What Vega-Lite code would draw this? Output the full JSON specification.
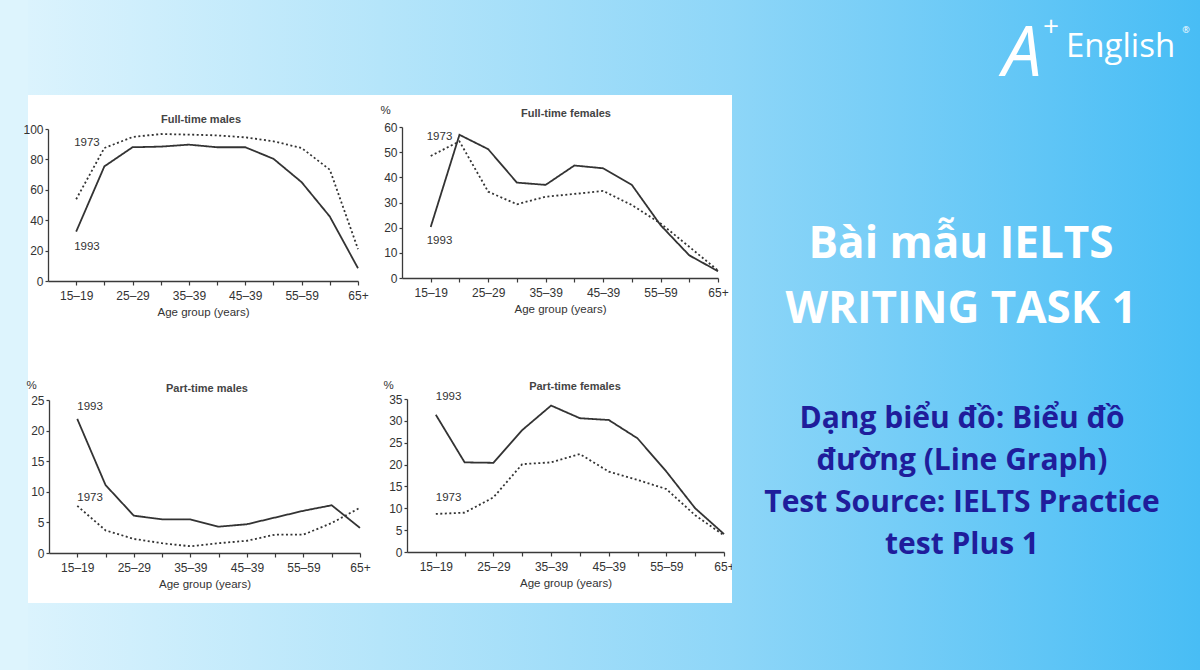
{
  "$schema": "https://vega.github.io/schema/vega-lite/v6.json",
  "padding": 0,
  "autosize": {"type": "pad"},
  "background": "#ffffff",
  "spacing": 0,
  "columns": 4,
  "bounds": "flush",
  "config": {
    "view": {"stroke": null},
    "font": "Liberation Sans",
    "axis": {"grid": false, "domainColor": "#3a3a3a", "tickColor": "#3a3a3a", "domainWidth": 1.3, "tickWidth": 1.2, "labelColor": "#333333", "labelFontSize": 12, "titleFontSize": 11.5, "titleFontWeight": "normal", "titleColor": "#333333", "labelFont": "Liberation Sans", "titleFont": "Liberation Sans"}
  },
  "datasets": {
    "employment": [
      {"chart": "Full-time males", "year": "1993", "age": "15–19", "pct": 32.5},
      {"chart": "Full-time males", "year": "1993", "age": "20–24", "pct": 75.4},
      {"chart": "Full-time males", "year": "1993", "age": "25–29", "pct": 88},
      {"chart": "Full-time males", "year": "1993", "age": "30–34", "pct": 88.4},
      {"chart": "Full-time males", "year": "1993", "age": "35–39", "pct": 89.7},
      {"chart": "Full-time males", "year": "1993", "age": "40–44", "pct": 88},
      {"chart": "Full-time males", "year": "1993", "age": "45–49", "pct": 88},
      {"chart": "Full-time males", "year": "1993", "age": "50–54", "pct": 80.4},
      {"chart": "Full-time males", "year": "1993", "age": "55–59", "pct": 65},
      {"chart": "Full-time males", "year": "1993", "age": "60–64", "pct": 42.4},
      {"chart": "Full-time males", "year": "1993", "age": "65+", "pct": 8.4},
      {"chart": "Full-time males", "year": "1973", "age": "15–19", "pct": 53.8},
      {"chart": "Full-time males", "year": "1973", "age": "20–24", "pct": 87.5},
      {"chart": "Full-time males", "year": "1973", "age": "25–29", "pct": 94.7},
      {"chart": "Full-time males", "year": "1973", "age": "30–34", "pct": 96.7},
      {"chart": "Full-time males", "year": "1973", "age": "35–39", "pct": 96.3},
      {"chart": "Full-time males", "year": "1973", "age": "40–44", "pct": 95.8},
      {"chart": "Full-time males", "year": "1973", "age": "45–49", "pct": 94.5},
      {"chart": "Full-time males", "year": "1973", "age": "50–54", "pct": 91.9},
      {"chart": "Full-time males", "year": "1973", "age": "55–59", "pct": 87.5},
      {"chart": "Full-time males", "year": "1973", "age": "60–64", "pct": 73.2},
      {"chart": "Full-time males", "year": "1973", "age": "65+", "pct": 21},
      {"chart": "Full-time females", "year": "1993", "age": "15–19", "pct": 20.3},
      {"chart": "Full-time females", "year": "1993", "age": "20–24", "pct": 56.9},
      {"chart": "Full-time females", "year": "1993", "age": "25–29", "pct": 51.2},
      {"chart": "Full-time females", "year": "1993", "age": "30–34", "pct": 37.9},
      {"chart": "Full-time females", "year": "1993", "age": "35–39", "pct": 37},
      {"chart": "Full-time females", "year": "1993", "age": "40–44", "pct": 44.7},
      {"chart": "Full-time females", "year": "1993", "age": "45–49", "pct": 43.6},
      {"chart": "Full-time females", "year": "1993", "age": "50–54", "pct": 37},
      {"chart": "Full-time females", "year": "1993", "age": "55–59", "pct": 21},
      {"chart": "Full-time females", "year": "1993", "age": "60–64", "pct": 9},
      {"chart": "Full-time females", "year": "1993", "age": "65+", "pct": 2.7},
      {"chart": "Full-time females", "year": "1973", "age": "15–19", "pct": 48.5},
      {"chart": "Full-time females", "year": "1973", "age": "20–24", "pct": 54.3},
      {"chart": "Full-time females", "year": "1973", "age": "25–29", "pct": 34.3},
      {"chart": "Full-time females", "year": "1973", "age": "30–34", "pct": 29.3},
      {"chart": "Full-time females", "year": "1973", "age": "35–39", "pct": 32.3},
      {"chart": "Full-time females", "year": "1973", "age": "40–44", "pct": 33.4},
      {"chart": "Full-time females", "year": "1973", "age": "45–49", "pct": 34.6},
      {"chart": "Full-time females", "year": "1973", "age": "50–54", "pct": 29},
      {"chart": "Full-time females", "year": "1973", "age": "55–59", "pct": 21.7},
      {"chart": "Full-time females", "year": "1973", "age": "60–64", "pct": 12.4},
      {"chart": "Full-time females", "year": "1973", "age": "65+", "pct": 3},
      {"chart": "Part-time males", "year": "1993", "age": "15–19", "pct": 21.9},
      {"chart": "Part-time males", "year": "1993", "age": "20–24", "pct": 11.1},
      {"chart": "Part-time males", "year": "1993", "age": "25–29", "pct": 6.1},
      {"chart": "Part-time males", "year": "1993", "age": "30–34", "pct": 5.5},
      {"chart": "Part-time males", "year": "1993", "age": "35–39", "pct": 5.5},
      {"chart": "Part-time males", "year": "1993", "age": "40–44", "pct": 4.3},
      {"chart": "Part-time males", "year": "1993", "age": "45–49", "pct": 4.7},
      {"chart": "Part-time males", "year": "1993", "age": "50–54", "pct": 5.8},
      {"chart": "Part-time males", "year": "1993", "age": "55–59", "pct": 6.9},
      {"chart": "Part-time males", "year": "1993", "age": "60–64", "pct": 7.8},
      {"chart": "Part-time males", "year": "1993", "age": "65+", "pct": 4.1},
      {"chart": "Part-time males", "year": "1973", "age": "15–19", "pct": 7.7},
      {"chart": "Part-time males", "year": "1973", "age": "20–24", "pct": 3.7},
      {"chart": "Part-time males", "year": "1973", "age": "25–29", "pct": 2.3},
      {"chart": "Part-time males", "year": "1973", "age": "30–34", "pct": 1.6},
      {"chart": "Part-time males", "year": "1973", "age": "35–39", "pct": 1.1},
      {"chart": "Part-time males", "year": "1973", "age": "40–44", "pct": 1.6},
      {"chart": "Part-time males", "year": "1973", "age": "45–49", "pct": 2},
      {"chart": "Part-time males", "year": "1973", "age": "50–54", "pct": 3},
      {"chart": "Part-time males", "year": "1973", "age": "55–59", "pct": 3},
      {"chart": "Part-time males", "year": "1973", "age": "60–64", "pct": 4.9},
      {"chart": "Part-time males", "year": "1973", "age": "65+", "pct": 7.4},
      {"chart": "Part-time females", "year": "1993", "age": "15–19", "pct": 31.4},
      {"chart": "Part-time females", "year": "1993", "age": "20–24", "pct": 20.5},
      {"chart": "Part-time females", "year": "1993", "age": "25–29", "pct": 20.4},
      {"chart": "Part-time females", "year": "1993", "age": "30–34", "pct": 27.9},
      {"chart": "Part-time females", "year": "1993", "age": "35–39", "pct": 33.5},
      {"chart": "Part-time females", "year": "1993", "age": "40–44", "pct": 30.6},
      {"chart": "Part-time females", "year": "1993", "age": "45–49", "pct": 30.2},
      {"chart": "Part-time females", "year": "1993", "age": "50–54", "pct": 26},
      {"chart": "Part-time females", "year": "1993", "age": "55–59", "pct": 18.4},
      {"chart": "Part-time females", "year": "1993", "age": "60–64", "pct": 10},
      {"chart": "Part-time females", "year": "1993", "age": "65+", "pct": 4.1},
      {"chart": "Part-time females", "year": "1973", "age": "15–19", "pct": 8.7},
      {"chart": "Part-time females", "year": "1973", "age": "20–24", "pct": 9},
      {"chart": "Part-time females", "year": "1973", "age": "25–29", "pct": 12.5},
      {"chart": "Part-time females", "year": "1973", "age": "30–34", "pct": 20.1},
      {"chart": "Part-time females", "year": "1973", "age": "35–39", "pct": 20.5},
      {"chart": "Part-time females", "year": "1973", "age": "40–44", "pct": 22.4},
      {"chart": "Part-time females", "year": "1973", "age": "45–49", "pct": 18.4},
      {"chart": "Part-time females", "year": "1973", "age": "50–54", "pct": 16.5},
      {"chart": "Part-time females", "year": "1973", "age": "55–59", "pct": 14.4},
      {"chart": "Part-time females", "year": "1973", "age": "60–64", "pct": 8.4},
      {"chart": "Part-time females", "year": "1973", "age": "65+", "pct": 3.8}
    ],
    "labels": [
      {"chart": "Full-time males", "age": "15–19", "pct": 90.8, "label": "1973"},
      {"chart": "Full-time males", "age": "15–19", "pct": 22.4, "label": "1993"},
      {"chart": "Full-time females", "age": "15–19", "pct": 56, "label": "1973"},
      {"chart": "Full-time females", "age": "15–19", "pct": 14.7, "label": "1993"},
      {"chart": "Part-time males", "age": "15–19", "pct": 23.9, "label": "1993"},
      {"chart": "Part-time males", "age": "15–19", "pct": 9.0, "label": "1973"},
      {"chart": "Part-time females", "age": "15–19", "pct": 35.5, "label": "1993"},
      {"chart": "Part-time females", "age": "15–19", "pct": 12.4, "label": "1973"}
    ]
  },
  "concat": [
    {"width": 28, "height": 95, "data": {"values": [{}]}, "mark": {"type": "rect", "color": "#ddf4fd", "strokeWidth": 0}, "encoding": {"x": {"value": 0}, "x2": {"value": "width"}, "y": {"value": 0}, "y2": {"value": "height"}}},
    {"width": 352, "height": 95, "data": {"values": [{}]}, "mark": {"type": "rect", "strokeWidth": 0, "color": {"gradient": "linear", "x1": 0, "y1": 0, "x2": 1, "y2": 0, "stops": [{"offset": 0, "color": "#dbf3fd"}, {"offset": 1, "color": "#b5e5fa"}]}}, "encoding": {"x": {"value": 0}, "x2": {"value": "width"}, "y": {"value": 0}, "y2": {"value": "height"}}},
    {"width": 352, "height": 95, "data": {"values": [{}]}, "mark": {"type": "rect", "strokeWidth": 0, "color": {"gradient": "linear", "x1": 0, "y1": 0, "x2": 1, "y2": 0, "stops": [{"offset": 0, "color": "#b5e5fa"}, {"offset": 1, "color": "#8ed6f8"}]}}, "encoding": {"x": {"value": 0}, "x2": {"value": "width"}, "y": {"value": 0}, "y2": {"value": "height"}}},
    {"width": 468, "height": 95, "data": {"values": [{}]},
      "layer": [
        {"mark": {"type": "rect", "strokeWidth": 0, "color": {"gradient": "linear", "x1": 0, "y1": 0, "x2": 1, "y2": 0, "stops": [{"offset": 0, "color": "#8ed6f8"}, {"offset": 1, "color": "#48bdf5"}]}}, "encoding": {"x": {"value": 0}, "x2": {"value": "width"}, "y": {"value": 0}, "y2": {"value": "height"}}},
        {"mark": {"type": "text", "text": "A", "font": "Open Sans", "fontSize": 70, "fontWeight": 400, "fontStyle": "italic", "color": "#ffffff", "align": "center", "baseline": "alphabetic", "x": 290, "y": 76}},
        {"mark": {"type": "text", "text": "+", "font": "Open Sans", "fontSize": 28, "fontWeight": 400, "color": "#ffffff", "align": "center", "baseline": "middle", "x": 319, "y": 28}},
        {"mark": {"type": "text", "text": "English", "font": "Open Sans", "fontSize": 33, "fontWeight": 400, "color": "#ffffff", "align": "left", "baseline": "alphabetic", "x": 334, "y": 57}},
        {"mark": {"type": "text", "text": "®", "font": "Open Sans", "fontSize": 9, "color": "#ffffff", "align": "center", "baseline": "middle", "x": 454, "y": 30}}
      ]
    },

    {"width": 28, "height": 254, "data": {"values": [{}]}, "mark": {"type": "rect", "color": "#ddf4fd", "strokeWidth": 0}, "encoding": {"x": {"value": 0}, "x2": {"value": "width"}, "y": {"value": 0}, "y2": {"value": "height"}}},
    {"width": 352, "height": 254, "view": {"fill": "#ffffff", "stroke": null},
      "title": {"text": "Full-time males", "frame": "group", "anchor": "middle", "dx": -3, "offset": -30, "fontSize": 11, "font": "Liberation Sans", "fontWeight": "bold", "color": "#444444"},
      "encoding": {
        "x": {"field": "age", "type": "ordinal", "scale": {"type": "point", "domain": ["15–19","20–24","25–29","30–34","35–39","40–44","45–49","50–54","55–59","60–64","65+"], "range": [20, 330], "padding": 0.5, "align": 1},
          "axis": {"orient": "bottom", "offset": -68, "labelAngle": 0, "labelPadding": 5, "tickSize": 4, "title": "Age group (years)", "titlePadding": 5, "labelBound": false, "labelOverlap": false, "labelExpr": "indexof(['20–24','30–34','40–44','50–54','60–64'], datum.label) >= 0 ? '' : (datum.label == '45–49' ? '45–39' : datum.label)"}},
        "y": {"field": "pct", "type": "quantitative", "scale": {"domain": [0, 100], "range": [186, 34], "nice": false, "zero": false},
          "axis": {"orient": "left", "offset": -20, "values": [0, 20, 40, 60, 80, 100], "labelPadding": 2, "tickSize": 3, "title": null}}
      },
      "layer": [
        {"data": {"name": "employment"}, "transform": [{"filter": "datum.chart == 'Full-time males'"}], "mark": {"type": "line", "color": "#333333", "strokeWidth": 1.8}, "encoding": {"strokeDash": {"field": "year", "type": "nominal", "scale": {"domain": ["1993", "1973"], "range": [[1, 0], [2, 2.5]]}, "legend": null}}},
        {"data": {"name": "labels"}, "transform": [{"filter": "datum.chart == 'Full-time males'"}], "mark": {"type": "text", "align": "left", "baseline": "middle", "dx": -2, "fontSize": 11.5, "color": "#333333"}, "encoding": {"text": {"field": "label"}}}
      ]
    },
    {"width": 352, "height": 254, "view": {"fill": "#ffffff", "stroke": null},
      "title": {"text": "Full-time females", "frame": "group", "anchor": "middle", "dx": 10, "offset": -24, "fontSize": 11, "font": "Liberation Sans", "fontWeight": "bold", "color": "#444444"},
      "encoding": {
        "x": {"field": "age", "type": "ordinal", "scale": {"type": "point", "domain": ["15–19","20–24","25–29","30–34","35–39","40–44","45–49","50–54","55–59","60–64","65+"], "range": [22, 338], "padding": 0.5, "align": 1},
          "axis": {"orient": "bottom", "offset": -71, "labelAngle": 0, "labelPadding": 5, "tickSize": 4, "title": "Age group (years)", "titlePadding": 5, "labelBound": false, "labelOverlap": false, "labelExpr": "indexof(['20–24','30–34','40–44','50–54','60–64'], datum.label) >= 0 ? '' : (datum.label == '45–49' ? '45–39' : datum.label)"}},
        "y": {"field": "pct", "type": "quantitative", "scale": {"domain": [0, 60], "range": [183, 32], "nice": false, "zero": false},
          "axis": {"orient": "left", "offset": -22, "values": [0, 10, 20, 30, 40, 50, 60], "labelPadding": 2, "tickSize": 3, "title": "%", "titleAngle": 0, "titleX": -17, "titleY": 15, "titleAlign": "center", "titleBaseline": "middle"}}
      },
      "layer": [
        {"data": {"name": "employment"}, "transform": [{"filter": "datum.chart == 'Full-time females'"}], "mark": {"type": "line", "color": "#333333", "strokeWidth": 1.8}, "encoding": {"strokeDash": {"field": "year", "type": "nominal", "scale": {"domain": ["1993", "1973"], "range": [[1, 0], [2, 2.5]]}, "legend": null}}},
        {"data": {"name": "labels"}, "transform": [{"filter": "datum.chart == 'Full-time females'"}], "mark": {"type": "text", "align": "left", "baseline": "middle", "dx": -4, "fontSize": 11.5, "color": "#333333"}, "encoding": {"text": {"field": "label"}}}
      ]
    },
    {"width": 468, "height": 254, "data": {"values": [{"line": "Bài mẫu IELTS", "row": "1"}, {"line": "WRITING TASK 1", "row": "2"}]},
      "layer": [
        {"mark": {"type": "rect", "strokeWidth": 0, "color": {"gradient": "linear", "x1": 0, "y1": 0, "x2": 1, "y2": 0, "stops": [{"offset": 0, "color": "#8ed6f8"}, {"offset": 1, "color": "#48bdf5"}]}}, "encoding": {"x": {"value": 0}, "x2": {"value": "width"}, "y": {"value": 0}, "y2": {"value": "height"}}},
        {"mark": {"type": "text", "font": "Open Sans", "fontSize": 44, "fontWeight": "bold", "color": "#ffffff", "align": "center", "baseline": "alphabetic"},
          "encoding": {"x": {"value": 229}, "y": {"field": "row", "type": "ordinal", "scale": {"type": "point", "range": [163, 228], "padding": 0}, "axis": null}, "text": {"field": "line"}}}
      ]
    },

    {"width": 28, "height": 254, "data": {"values": [{}]}, "mark": {"type": "rect", "color": "#ddf4fd", "strokeWidth": 0}, "encoding": {"x": {"value": 0}, "x2": {"value": "width"}, "y": {"value": 0}, "y2": {"value": "height"}}},
    {"width": 352, "height": 254, "view": {"fill": "#ffffff", "stroke": null},
      "title": {"text": "Part-time males", "frame": "group", "anchor": "middle", "dx": 3, "offset": -45, "fontSize": 11, "font": "Liberation Sans", "fontWeight": "bold", "color": "#444444"},
      "encoding": {
        "x": {"field": "age", "type": "ordinal", "scale": {"type": "point", "domain": ["15–19","20–24","25–29","30–34","35–39","40–44","45–49","50–54","55–59","60–64","65+"], "range": [21, 332], "padding": 0.5, "align": 1},
          "axis": {"orient": "bottom", "offset": -50, "labelAngle": 0, "labelPadding": 5, "tickSize": 4, "title": "Age group (years)", "titlePadding": 5, "labelBound": false, "labelOverlap": false, "labelExpr": "indexof(['20–24','30–34','40–44','50–54','60–64'], datum.label) >= 0 ? '' : (datum.label == '45–49' ? '45–39' : datum.label)"}},
        "y": {"field": "pct", "type": "quantitative", "scale": {"domain": [0, 25], "range": [204, 51], "nice": false, "zero": false},
          "axis": {"orient": "left", "offset": -21, "values": [0, 5, 10, 15, 20, 25], "labelPadding": 2, "tickSize": 3, "title": "%", "titleAngle": 0, "titleX": -18, "titleY": 36, "titleAlign": "center", "titleBaseline": "middle"}}
      },
      "layer": [
        {"data": {"name": "employment"}, "transform": [{"filter": "datum.chart == 'Part-time males'"}], "mark": {"type": "line", "color": "#333333", "strokeWidth": 1.8}, "encoding": {"strokeDash": {"field": "year", "type": "nominal", "scale": {"domain": ["1993", "1973"], "range": [[1, 0], [2, 2.5]]}, "legend": null}}},
        {"data": {"name": "labels"}, "transform": [{"filter": "datum.chart == 'Part-time males'"}], "mark": {"type": "text", "align": "left", "baseline": "middle", "dx": 0, "fontSize": 11.5, "color": "#333333"}, "encoding": {"text": {"field": "label"}}}
      ]
    },
    {"width": 352, "height": 254, "view": {"fill": "#ffffff", "stroke": null},
      "title": {"text": "Part-time females", "frame": "group", "anchor": "middle", "dx": 19, "offset": -43, "fontSize": 11, "font": "Liberation Sans", "fontWeight": "bold", "color": "#444444"},
      "encoding": {
        "x": {"field": "age", "type": "ordinal", "scale": {"type": "point", "domain": ["15–19","20–24","25–29","30–34","35–39","40–44","45–49","50–54","55–59","60–64","65+"], "range": [27, 344], "padding": 0.5, "align": 1},
          "axis": {"orient": "bottom", "offset": -51, "labelAngle": 0, "labelPadding": 5, "tickSize": 4, "title": "Age group (years)", "titlePadding": 5, "labelBound": false, "labelOverlap": false, "labelExpr": "indexof(['20–24','30–34','40–44','50–54','60–64'], datum.label) >= 0 ? '' : (datum.label == '45–49' ? '45–39' : datum.label)"}},
        "y": {"field": "pct", "type": "quantitative", "scale": {"domain": [0, 35], "range": [203, 50], "nice": false, "zero": false},
          "axis": {"orient": "left", "offset": -27, "values": [0, 5, 10, 15, 20, 25, 30, 35], "labelPadding": 2, "tickSize": 3, "title": "%", "titleAngle": 0, "titleX": -19, "titleY": 36, "titleAlign": "center", "titleBaseline": "middle"}}
      },
      "layer": [
        {"data": {"name": "employment"}, "transform": [{"filter": "datum.chart == 'Part-time females'"}], "mark": {"type": "line", "color": "#333333", "strokeWidth": 1.8}, "encoding": {"strokeDash": {"field": "year", "type": "nominal", "scale": {"domain": ["1993", "1973"], "range": [[1, 0], [2, 2.5]]}, "legend": null}}},
        {"data": {"name": "labels"}, "transform": [{"filter": "datum.chart == 'Part-time females'"}], "mark": {"type": "text", "align": "left", "baseline": "middle", "dx": 0, "fontSize": 11.5, "color": "#333333"}, "encoding": {"text": {"field": "label"}}}
      ]
    },
    {"width": 468, "height": 254, "data": {"values": [{"line": "Dạng biểu đồ: Biểu đồ", "row": "1"}, {"line": "đường (Line Graph)", "row": "2"}, {"line": "Test Source: IELTS Practice", "row": "3"}, {"line": "test Plus 1", "row": "4"}]},
      "layer": [
        {"mark": {"type": "rect", "strokeWidth": 0, "color": {"gradient": "linear", "x1": 0, "y1": 0, "x2": 1, "y2": 0, "stops": [{"offset": 0, "color": "#8ed6f8"}, {"offset": 1, "color": "#48bdf5"}]}}, "encoding": {"x": {"value": 0}, "x2": {"value": "width"}, "y": {"value": 0}, "y2": {"value": "height"}}},
        {"mark": {"type": "text", "font": "Open Sans", "fontSize": 30, "fontWeight": "bold", "color": "#1f1d9b", "align": "center", "baseline": "middle"},
          "encoding": {"x": {"value": 230}, "y": {"field": "row", "type": "ordinal", "scale": {"type": "point", "range": [70, 196], "padding": 0}, "axis": null}, "text": {"field": "line"}}}
      ]
    },

    {"width": 28, "height": 67, "data": {"values": [{}]}, "mark": {"type": "rect", "color": "#ddf4fd", "strokeWidth": 0}, "encoding": {"x": {"value": 0}, "x2": {"value": "width"}, "y": {"value": 0}, "y2": {"value": "height"}}},
    {"width": 352, "height": 67, "data": {"values": [{}]}, "mark": {"type": "rect", "strokeWidth": 0, "color": {"gradient": "linear", "x1": 0, "y1": 0, "x2": 1, "y2": 0, "stops": [{"offset": 0, "color": "#dbf3fd"}, {"offset": 1, "color": "#b5e5fa"}]}}, "encoding": {"x": {"value": 0}, "x2": {"value": "width"}, "y": {"value": 0}, "y2": {"value": "height"}}},
    {"width": 352, "height": 67, "data": {"values": [{}]}, "mark": {"type": "rect", "strokeWidth": 0, "color": {"gradient": "linear", "x1": 0, "y1": 0, "x2": 1, "y2": 0, "stops": [{"offset": 0, "color": "#b5e5fa"}, {"offset": 1, "color": "#8ed6f8"}]}}, "encoding": {"x": {"value": 0}, "x2": {"value": "width"}, "y": {"value": 0}, "y2": {"value": "height"}}},
    {"width": 468, "height": 67, "data": {"values": [{}]}, "mark": {"type": "rect", "strokeWidth": 0, "color": {"gradient": "linear", "x1": 0, "y1": 0, "x2": 1, "y2": 0, "stops": [{"offset": 0, "color": "#8ed6f8"}, {"offset": 1, "color": "#48bdf5"}]}}, "encoding": {"x": {"value": 0}, "x2": {"value": "width"}, "y": {"value": 0}, "y2": {"value": "height"}}}
  ]
}
